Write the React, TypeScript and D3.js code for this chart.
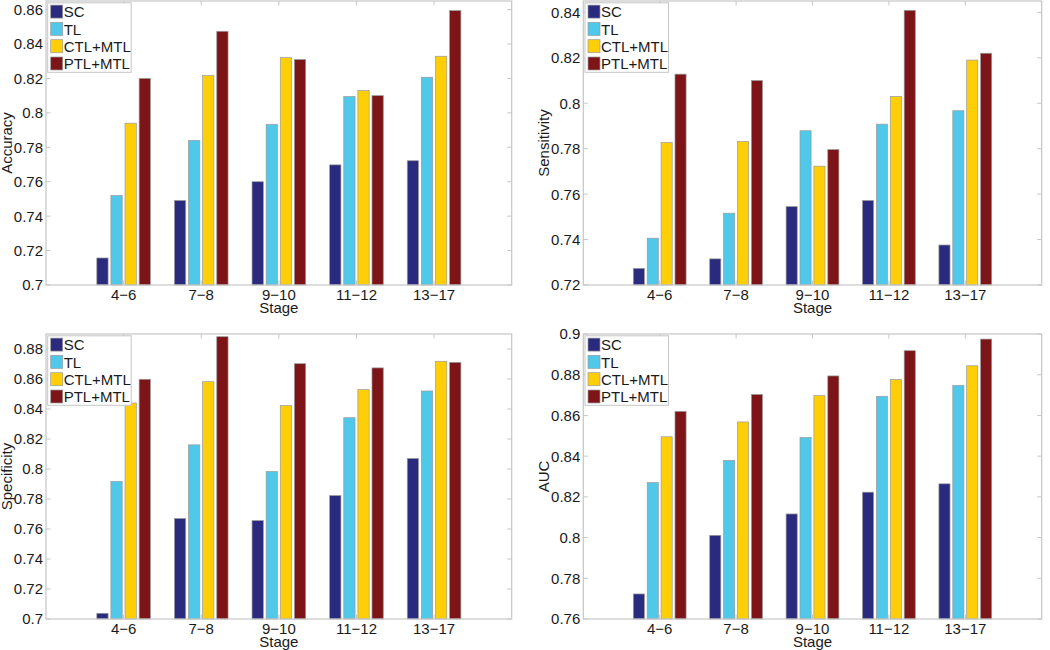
import React from "react";
import * as d3 from "d3";

const categories = ["4−6", "7−8", "9−10", "11−12", "13−17"];
const seriesNames = ["SC", "TL", "CTL+MTL", "PTL+MTL"];
const seriesColors = ["#2a2a7e", "#4fc8ea", "#fecf06", "#7d1417"];

// values per series (SC, TL, CTL+MTL, PTL+MTL), per stage
const accuracy = [
  [0.7157, 0.7491, 0.76, 0.7698, 0.7722],
  [0.752, 0.784, 0.7932, 0.8095, 0.8207],
  [0.794, 0.8217, 0.8321, 0.813, 0.8329],
  [0.82, 0.8474, 0.831, 0.81, 0.8594],
];
const sensitivity = [
  [0.7273, 0.7315, 0.7545, 0.7572, 0.7376],
  [0.7406, 0.7516, 0.7879, 0.7908, 0.7967],
  [0.7827, 0.7832, 0.7723, 0.803, 0.819],
  [0.8128, 0.81, 0.7796, 0.8409, 0.822],
];
const specificity = [
  [0.7038, 0.767, 0.7656, 0.7823, 0.807],
  [0.7917, 0.8161, 0.7983, 0.8342, 0.852],
  [0.844, 0.8582, 0.8423, 0.8529, 0.8718],
  [0.8598, 0.8882, 0.8702, 0.8674, 0.8711],
];
const auc = [
  [0.7723, 0.8011, 0.8116, 0.8223, 0.8264],
  [0.827, 0.8379, 0.8492, 0.8694, 0.8747],
  [0.8495, 0.8568, 0.8697, 0.8777, 0.8844],
  [0.862, 0.8703, 0.8794, 0.8918, 0.8975],
];

const accTicks = [0.7, 0.72, 0.74, 0.76, 0.78, 0.8, 0.82, 0.84, 0.86];
const senTicks = [0.72, 0.74, 0.76, 0.78, 0.8, 0.82, 0.84];
const speTicks = [0.7, 0.72, 0.74, 0.76, 0.78, 0.8, 0.82, 0.84, 0.86, 0.88];
const aucTicks = [0.76, 0.78, 0.8, 0.82, 0.84, 0.86, 0.88, 0.9];

const FONT = "'Liberation Sans', Arial, Helvetica, sans-serif";
const FS = 15;
const AXIS_COLOR = "#c6c6c6";
const TEXT_COLOR = "#1a1a1a";

type PanelProps = {
  left: number;
  right: number;
  top: number;
  bottom: number;
  domain: [number, number];
  ticks: number[];
  values: number[][];
  ylabel: string;
};

function fmt(v: number) {
  return String(+v.toFixed(2));
}

function Panel({ left, right, top, bottom, domain, ticks, values, ylabel }: PanelProps) {
  const x = d3.scaleLinear().domain([0, 6]).range([left, right]);
  const y = d3.scaleLinear().domain(domain).range([bottom, top]);
  const n = seriesNames.length;
  const groupWidth = Math.min(0.8, n / (n + 1.5));
  const pitch = groupWidth / n;
  const barW = pitch * 0.8;
  const tickLen = 4.5;
  const legX = left + 1.7;
  const legY = top + 1.8;
  const rowH = 17.3;
  return (
    <g>
      {values.map((ser, si) =>
        ser.map((v, ci) => {
          const c = ci + 1 - groupWidth / 2 + pitch / 2 + si * pitch;
          const x0 = x(c - barW / 2);
          const x1 = x(c + barW / 2);
          return (
            <rect
              key={`b${si}-${ci}`}
              x={x0}
              y={y(v)}
              width={x1 - x0}
              height={y(domain[0]) - y(v)}
              fill={seriesColors[si]}
              stroke="#9a9a9a"
              strokeWidth={0.7}
            />
          );
        })
      )}
      <rect x={left} y={top} width={right - left} height={bottom - top} fill="none" stroke={AXIS_COLOR} strokeWidth={1.2} />
      {ticks.map((t) => (
        <g key={`yt${t}`}>
          <line x1={left} x2={left + tickLen} y1={y(t)} y2={y(t)} stroke={AXIS_COLOR} />
          <line x1={right} x2={right - tickLen} y1={y(t)} y2={y(t)} stroke={AXIS_COLOR} />
          <text x={left - 3} y={y(t)} dy="0.36em" textAnchor="end" fontSize={FS} fontFamily={FONT} fill={TEXT_COLOR}>
            {fmt(t)}
          </text>
        </g>
      ))}
      {categories.map((c, i) => (
        <g key={`xt${i}`}>
          <line x1={x(i + 1)} x2={x(i + 1)} y1={bottom} y2={bottom - tickLen} stroke={AXIS_COLOR} />
          <line x1={x(i + 1)} x2={x(i + 1)} y1={top} y2={top + tickLen} stroke={AXIS_COLOR} />
          <text x={x(i + 1)} y={bottom + 15} textAnchor="middle" fontSize={FS} fontFamily={FONT} fill={TEXT_COLOR}>
            {c}
          </text>
        </g>
      ))}
      <text x={(left + right) / 2} y={bottom + 27.5} textAnchor="middle" fontSize={FS} fontFamily={FONT} fill={TEXT_COLOR}>
        Stage
      </text>
      <text
        transform={`translate(${left - 34},${(top + bottom) / 2}) rotate(-90)`}
        textAnchor="middle"
        fontSize={FS}
        fontFamily={FONT}
        fill={TEXT_COLOR}
      >
        {ylabel}
      </text>
      <rect x={legX} y={legY} width={83.5} height={69.5} fill="#ffffff" stroke={AXIS_COLOR} strokeWidth={1} />
      {seriesNames.map((s, i) => (
        <g key={`lg${i}`}>
          <rect
            x={legX + 3}
            y={legY + 2.3 + i * rowH}
            width={12}
            height={13}
            fill={seriesColors[i]}
            stroke="#9a9a9a"
            strokeWidth={0.7}
          />
          <text x={legX + 16} y={legY + 9 + i * rowH} dy="0.36em" fontSize={FS} fontFamily={FONT} fill={TEXT_COLOR}>
            {s}
          </text>
        </g>
      ))}
    </g>
  );
}

export default function App() {
  return (
    <svg
      width={1050}
      height={650}
      style={{ position: "absolute", left: 0, top: 0, background: "#ffffff" }}
    >
      <rect x={0} y={0} width={1050} height={650} fill="#ffffff" />
      <Panel left={46} right={511.7} top={1} bottom={285} domain={[0.7, 0.865]} ticks={accTicks} values={accuracy} ylabel="Accuracy" />
      <Panel left={583.3} right={1041.7} top={1} bottom={285} domain={[0.72, 0.845]} ticks={senTicks} values={sensitivity} ylabel="Sensitivity" />
      <Panel left={46} right={511.7} top={334} bottom={619} domain={[0.7, 0.89]} ticks={speTicks} values={specificity} ylabel="Specificity" />
      <Panel left={583.3} right={1041.7} top={334} bottom={619} domain={[0.76, 0.9]} ticks={aucTicks} values={auc} ylabel="AUC" />
    </svg>
  );
}
